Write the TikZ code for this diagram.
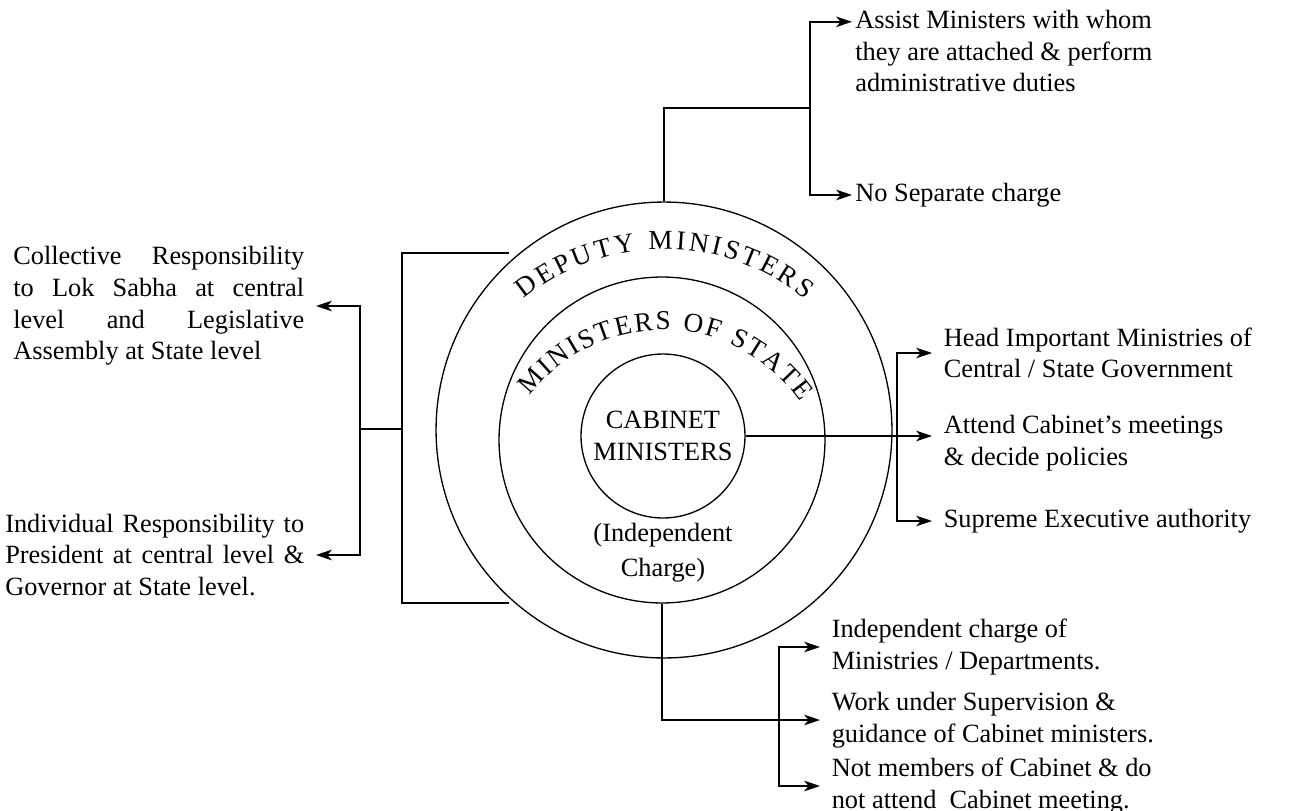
\documentclass[tikz,border=0pt]{standalone}
\usepackage{fontspec}
\setmainfont{Liberation Serif}
\usetikzlibrary{arrows.meta,decorations.text}

\tikzset{
  ring/.style={draw,circle,line width=0.75pt,inner sep=0pt},
  link/.style={line width=0.9pt},
  arr/.style={link,-{Stealth[length=9pt,width=6pt,inset=2.5pt]}},
  txt/.style={inner ysep=0pt,inner xsep=6.5pt,align=left,font=\fontsize{15}{18}\selectfont},
  bend text/.style={decorate,decoration={text along path,text align={fit to path},text={|\fontsize{15.5}{15.5}\selectfont|#1}}}
}

\begin{document}
\begin{tikzpicture}[x=0.02cm,y=-0.02cm]
        \useasboundingbox (0,0) rectangle (1292,811);
        \node[ring,minimum size=9.12cm] (deputy) at (664,430) {};
        \node[ring,minimum size=6.52cm] (state) at (662,440) {};
        \node[ring,minimum size=3.28cm,align=center,font=\fontsize{15}{18}\selectfont] (cabinet) at (663,436) {CABINET\\MINISTERS};
        \path[bend text={DEPUTY MINISTERS}] (664,470) ++(230.7:221) arc (230.7:309.7:221);
        \path[bend text={MINISTERS OF STATE}] (663,498) ++(217.3:168) arc (217.3:325.2:168);
        \node[align=center,inner sep=0pt,font=\fontsize{15}{20}\selectfont] (indep) at (663,553) {(Independent\\Charge)};
        \node[txt,inner xsep=1.7pt,anchor=north west] (assist) at (852,6) {\strut Assist Ministers with whom\\they are attached \& perform\\administrative duties};
        \node[txt,inner xsep=1.7pt,anchor=west] (nosep) at (852,195) {No Separate charge};
        \node[txt,anchor=east,text width=5.82cm,align=justify] (collect) at (316,306) {Collective Responsibility\linebreak to Lok Sabha at central\linebreak level and Legislative\linebreak Assembly at State level};
        \node[txt,anchor=east,text width=5.98cm,align=justify] (indiv) at (316,555) {Individual Responsibility to\linebreak President at central level \&\linebreak Governor at State level.};
        \node[txt,anchor=west] (head) at (932,353) {Head Important Ministries of\\Central / State Government};
        \node[txt,anchor=west] (attend) at (932,443) {Attend Cabinet's meetings\\\& decide policies};
        \node[txt,anchor=west] (supreme) at (932,521) {Supreme Executive authority};
        \node[txt,anchor=west] (charge) at (820,647) {Independent charge of\\Ministries / Departments.};
        \node[txt,anchor=west] (under) at (820,720) {Work under Supervision \&\\guidance of Cabinet ministers.};
        \node[txt,anchor=west] (notmem) at (820,786) {Not members of Cabinet \& do\\not attend\ \ Cabinet meeting.};
        \coordinate (tb) at (810,108);
        \coordinate (rb) at (897,436);
        \coordinate (bb) at (779,720);
        \coordinate (lt) at (509,253);
        \coordinate (lb) at (509,603);
        \coordinate (lm) at (402,429);
        \coordinate (lj) at (360,429);
        \draw[link] (deputy.north) |- (tb);
        \draw[arr] (tb) |- ([yshift=-9pt]assist.north west);
        \draw[arr] (tb) |- (nosep.west);
        \draw[arr] (cabinet.east) -- (cabinet.east -| attend.west);
        \draw[arr] (rb) |- (head.west);
        \draw[arr] (rb) |- (supreme.west);
        \draw[arr] (state.south) |- (under.west);
        \draw[arr] (bb) |- (charge.west);
        \draw[arr] (bb) |- (notmem.west);
        \draw[link] (lt) -| (lm) |- (lb);
        \draw[link] (lm) -- (lj);
        \draw[arr] (lj) |- (collect.east);
        \draw[arr] (lj) |- (indiv.east);
\end{tikzpicture}
\end{document}
